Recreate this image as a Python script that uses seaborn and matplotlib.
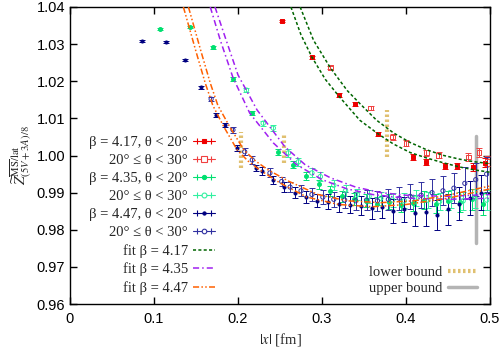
import numpy as np
import pandas as pd
import seaborn as sns
import matplotlib.pyplot as plt
from matplotlib.lines import Line2D
from matplotlib.legend_handler import HandlerLine2D, HandlerTuple

# beta = 4.17
x417a = [0.252, 0.288, 0.320, 0.339, 0.367, 0.408, 0.424, 0.446, 0.461, 0.480, 0.494]
y417a = [1.0362, 1.0265, 1.0163, 1.0139, 1.0058, 0.9996, 0.9982, 0.9972, 0.9972, 0.9969, 0.9980]
e417a = [0.0003, 0.0004, 0.0005, 0.0005, 0.0006, 0.0007, 0.0008, 0.0008, 0.0009, 0.0010, 0.0012]
x417b = [0.310, 0.358, 0.384, 0.400, 0.424, 0.439, 0.474, 0.487, 0.497]
y417b = [1.0236, 1.0128, 1.0050, 1.0033, 1.0007, 1.0001, 0.9996, 1.0007, 0.9985]
e417b = [0.0004, 0.0006, 0.0007, 0.0008, 0.0009, 0.0009, 0.0011, 0.0012, 0.0013]

# beta = 4.35
x435a = [0.107, 0.143, 0.170, 0.194, 0.217, 0.248, 0.266, 0.281, 0.296, 0.310, 0.324, 0.338,
         0.352, 0.366, 0.380, 0.394, 0.408, 0.422, 0.436, 0.450, 0.464, 0.478, 0.492]
y435a = [1.0340, 1.0346, 1.0292, 1.0206, 1.0114, 1.0010, 0.9975, 0.9945, 0.9922, 0.9905, 0.9890, 0.9882,
         0.9878, 0.9870, 0.9875, 0.9868, 0.9872, 0.9880, 0.9870, 0.9878, 0.9874, 0.9882, 0.9870]
e435a = [0.0003, 0.0003, 0.0004, 0.0005, 0.0006, 0.0008, 0.0010, 0.0011, 0.0012, 0.0014, 0.0015, 0.0016,
         0.0018, 0.0019, 0.0020, 0.0021, 0.0022, 0.0024, 0.0025, 0.0026, 0.0027, 0.0028, 0.0030]
x435b = [0.210, 0.230, 0.242, 0.260, 0.272, 0.288, 0.298, 0.314, 0.328, 0.342, 0.356, 0.370,
         0.384, 0.398, 0.412, 0.426, 0.440, 0.454, 0.468, 0.482, 0.496]
y435b = [1.0176, 1.0087, 1.0074, 1.0007, 0.9983, 0.9953, 0.9943, 0.9920, 0.9905, 0.9895, 0.9890, 0.9885,
         0.9880, 0.9878, 0.9885, 0.9880, 0.9876, 0.9882, 0.9878, 0.9885, 0.9880]
e435b = [0.0006, 0.0007, 0.0008, 0.0010, 0.0011, 0.0012, 0.0013, 0.0014, 0.0015, 0.0016, 0.0017, 0.0018,
         0.0019, 0.0020, 0.0021, 0.0022, 0.0023, 0.0024, 0.0025, 0.0026, 0.0028]

# beta = 4.47
x447a = [0.086, 0.114, 0.137, 0.156, 0.174, 0.185, 0.199, 0.221, 0.229, 0.242, 0.255, 0.268, 0.281,
         0.294, 0.307, 0.320, 0.333, 0.346, 0.359, 0.372, 0.385, 0.398, 0.411, 0.424, 0.437, 0.450,
         0.463, 0.476, 0.489]
y447a = [1.0309, 1.0306, 1.0257, 1.0184, 1.0110, 1.0082, 1.0020, 0.9966, 0.9958, 0.9934, 0.9915, 0.9900,
         0.9888, 0.9878, 0.9875, 0.9870, 0.9868, 0.9865, 0.9858, 0.9862, 0.9850, 0.9855, 0.9845, 0.9848,
         0.9840, 0.9855, 0.9870, 0.9885, 0.9900]
e447a = [0.0002, 0.0002, 0.0003, 0.0004, 0.0005, 0.0006, 0.0007, 0.0009, 0.0010, 0.0011, 0.0013, 0.0014,
         0.0016, 0.0018, 0.0020, 0.0022, 0.0024, 0.0026, 0.0028, 0.0030, 0.0032, 0.0034, 0.0036, 0.0038,
         0.0040, 0.0042, 0.0044, 0.0046, 0.0048]
x447b = [0.168, 0.194, 0.208, 0.217, 0.238, 0.252, 0.262, 0.275, 0.288, 0.301, 0.314, 0.327, 0.340,
         0.353, 0.366, 0.379, 0.392, 0.405, 0.418, 0.431, 0.444, 0.457, 0.470, 0.483, 0.496]
y447b = [1.0152, 1.0069, 1.0010, 0.9988, 0.9953, 0.9930, 0.9915, 0.9905, 0.9895, 0.9888, 0.9882, 0.9880,
         0.9878, 0.9880, 0.9878, 0.9882, 0.9885, 0.9890, 0.9893, 0.9900, 0.9905, 0.9912, 0.9925, 0.9935, 0.9950]
e447b = [0.0006, 0.0008, 0.0009, 0.0010, 0.0012, 0.0013, 0.0014, 0.0015, 0.0017, 0.0018, 0.0020, 0.0022,
         0.0024, 0.0026, 0.0027, 0.0029, 0.0031, 0.0033, 0.0035, 0.0037, 0.0039, 0.0041, 0.0043, 0.0045, 0.0047]

# fit bands (upper / lower edge)
fit417_lo_x = [0.263, 0.275, 0.288, 0.304, 0.320, 0.345, 0.367, 0.385, 0.405, 0.425, 0.445, 0.464, 0.482, 0.50]
fit417_lo_y = [1.040, 1.0325, 1.0265, 1.0205, 1.0160, 1.0095, 1.0058, 1.0031, 1.0008, 0.9993, 0.9980, 0.9969, 0.9961, 0.9955]
fit417_hi_x = [0.274, 0.29, 0.31, 0.33, 0.345, 0.365, 0.385, 0.405, 0.425, 0.445, 0.464, 0.482, 0.50]
fit417_hi_y = [1.040, 1.031, 1.0236, 1.0175, 1.0140, 1.0095, 1.0061, 1.0035, 1.0015, 1.0000, 0.9990, 0.9983, 0.9978]

fit435_lo_x = [0.167, 0.179, 0.194, 0.214, 0.242, 0.27, 0.30, 0.33, 0.36, 0.40, 0.45, 0.50]
fit435_lo_y = [1.040, 1.031, 1.021, 1.0114, 1.0034, 0.9975, 0.9935, 0.9910, 0.9895, 0.9885, 0.9882, 0.9885]
fit435_hi_x = [0.1726, 0.186, 0.200, 0.2226, 0.256, 0.28, 0.31, 0.34, 0.37, 0.40, 0.45, 0.50]
fit435_hi_y = [1.040, 1.031, 1.0217, 1.0123, 1.0023, 0.9975, 0.9940, 0.9915, 0.9900, 0.9893, 0.9890, 0.9895]

fit447_lo_x = [0.135, 0.150, 0.161, 0.170, 0.183, 0.199, 0.212, 0.226, 0.250, 0.282, 0.32, 0.36, 0.40, 0.45, 0.50]
fit447_lo_y = [1.040, 1.028, 1.0195, 1.0135, 1.0078, 1.0015, 0.9985, 0.9961, 0.9926, 0.9888, 0.9868, 0.9862, 0.9868, 0.9885, 0.9910]
fit447_hi_x = [0.141, 0.156, 0.167, 0.176, 0.190, 0.207, 0.221, 0.236, 0.261, 0.295, 0.33, 0.37, 0.41, 0.45, 0.50]
fit447_hi_y = [1.040, 1.028, 1.0195, 1.0135, 1.0078, 1.0015, 0.9985, 0.9961, 0.9930, 0.9895, 0.9878, 0.9873, 0.9878, 0.9893, 0.9918]

# bounds
lower_x = [0.204, 0.255, 0.377]
lower_y0 = [0.9966, 0.9980, 0.9996]
lower_y1 = [1.0063, 1.0055, 1.0123]
upper_x = [0.483]
upper_y0 = [0.9764]
upper_y1 = [1.0053]

sns.set_style("ticks")
plt.rcParams['font.family'] = ['Liberation Sans', 'DejaVu Sans']
plt.rcParams['mathtext.fontset'] = 'stix'
serif = ['Liberation Serif', 'DejaVu Serif']

fig = plt.figure(figsize=(5.0, 3.48), dpi=100)
ax = fig.add_axes([0.14, 0.1264, 0.84, 0.8535])

c417a, c417b = '#ee0000', '#f04040'
c435a, c435b = '#00e070', '#30f0a0'
c447a, c447b = '#000080', '#3030a0'

# bounds first (behind)
for xb, a, b in zip(lower_x, lower_y0, lower_y1):
    ax.plot([xb, xb], [a, b], color='#e0c070', lw=3, ls=(0, (0.6, 0.6)), zorder=1)
for xb, a, b in zip(upper_x, upper_y0, upper_y1):
    ax.plot([xb, xb], [a, b], color='#b4b4b4', lw=2.5, zorder=1)

def pts(x, y, e, col, filled, marker, ms):
    ax.errorbar(x, y, yerr=e, fmt='none', ecolor=col, elinewidth=0.7, capsize=2, capthick=0.7, zorder=3)
    sns.scatterplot(x=x, y=y, ax=ax, marker=marker, s=ms,
                    color=col if filled else 'none', edgecolor=col, linewidth=0.7, zorder=4)

pts(x417a, y417a, e417a, c417a, True, 's', 10)
pts(x417b, y417b, e417b, c417b, False, 's', 12)
pts(x435a, y435a, e435a, c435a, True, 'o', 8)
pts(x435b, y435b, e435b, c435b, False, 'o', 10)
pts(x447b, y447b, e447b, c447b, False, 'o', 9)
pts(x447a, y447a, e447a, c447a, True, 'o', 5)

fits = [
    (fit417_lo_x, fit417_lo_y, '#006400', (0, (2, 1.5))),
    (fit417_hi_x, fit417_hi_y, '#006400', (0, (2, 1.5))),
    (fit435_lo_x, fit435_lo_y, '#a020f0', (0, (4, 2, 1, 2))),
    (fit435_hi_x, fit435_hi_y, '#a020f0', (0, (4, 2, 1, 2))),
    (fit447_lo_x, fit447_lo_y, '#ff6000', (0, (4, 1.5, 1, 1.5, 1, 1.5))),
    (fit447_hi_x, fit447_hi_y, '#ff6000', (0, (4, 1.5, 1, 1.5, 1, 1.5))),
]
for fx, fy, col, ls in fits:
    df = pd.DataFrame({'x': fx, 'y': fy})
    sns.lineplot(data=df, x='x', y='y', ax=ax, color=col, lw=1.1, sort=False, estimator=None, zorder=5)
    ax.lines[-1].set_linestyle(ls)

ax.set_xlim(0, 0.5)
ax.set_ylim(0.96, 1.04)
ax.set_xticks(np.arange(0, 0.51, 0.1))
ax.set_xticklabels(['0', '0.1', '0.2', '0.3', '0.4', '0.5'])
ax.set_yticks(np.arange(0.96, 1.041, 0.01))
ax.set_yticklabels(['%.2f' % v for v in np.arange(0.96, 1.041, 0.01)])
ax.tick_params(direction='in', length=5, width=1, top=True, right=True, labelsize=10.5, colors='black')
ax.tick_params(axis='x', pad=6)
for s in ax.spines.values():
    s.set_linewidth(1)
    s.set_color('black')
ax.set_xlabel(r'$|x|$ [fm]', family=serif, fontsize=10.5, labelpad=3)
ax.set_ylabel(r'$\widetilde{Z}^{\overline{\rm MS}/{\rm lat}}_{(5V+3A)/8}$', fontsize=11, labelpad=2)


def eb_handle(col, filled, marker, ms):
    line = Line2D([], [], color=col, lw=0.8, marker=marker, ms=ms,
                  mfc=col if filled else 'white', mec=col, mew=0.8)
    caps = Line2D([], [], color=col, lw=0, marker='|', ms=5, mew=0.8)
    return (line, caps), caps

h1, k1 = eb_handle(c417a, True, 's', 3.5)
h2, k2 = eb_handle(c417b, False, 's', 4)
h3, k3 = eb_handle(c435a, True, 'o', 3)
h4, k4 = eb_handle(c435b, False, 'o', 3.5)
h5, k5 = eb_handle(c447a, True, 'o', 2.3)
h6, k6 = eb_handle(c447b, False, 'o', 3.3)
f1 = Line2D([], [], color='#006400', lw=1.1, ls=(0, (2, 1.5)))
f2 = Line2D([], [], color='#a020f0', lw=1.1, ls=(0, (4, 2, 1, 2)))
f3 = Line2D([], [], color='#ff6000', lw=1.1, ls=(0, (4, 1.5, 1, 1.5, 1, 1.5)))
hm = {k: HandlerLine2D(numpoints=2) for k in (k1, k2, k3, k4, k5, k6)}
hm[tuple] = HandlerTuple(ndivide=1)
labels1 = ['β = 4.17, θ < 20°', '20° ≤ θ < 30°', 'β = 4.35, θ < 20°', '20° ≤ θ < 30°',
           'β = 4.47, θ < 20°', '20° ≤ θ < 30°', 'fit β = 4.17', 'fit β = 4.35', 'fit β = 4.47']
leg1 = ax.legend([h1, h2, h3, h4, h5, h6, f1, f2, f3], labels1, handler_map=hm, numpoints=1,
                 loc='upper right', bbox_to_anchor=(0.345, 0.566), frameon=False, markerfirst=False,
                 prop={'family': serif, 'size': 10.5}, labelspacing=0.33, handlelength=1.5,
                 handletextpad=0.35, borderpad=0, borderaxespad=0)
ax.add_artist(leg1)

b1 = Line2D([], [], color='#e0c070', lw=3, ls=(0, (0.6, 0.6)))
b2 = Line2D([], [], color='#b4b4b4', lw=2.5)
ax.legend([b1, b2], ['lower bound', 'upper bound'], loc='lower right', bbox_to_anchor=(0.97, 0.03),
          frameon=False, markerfirst=False, prop={'family': serif, 'size': 10.5}, labelspacing=0.18,
          handlelength=2.0, handletextpad=0.4, borderpad=0, borderaxespad=0)

fig.savefig('out.png', dpi=100)
